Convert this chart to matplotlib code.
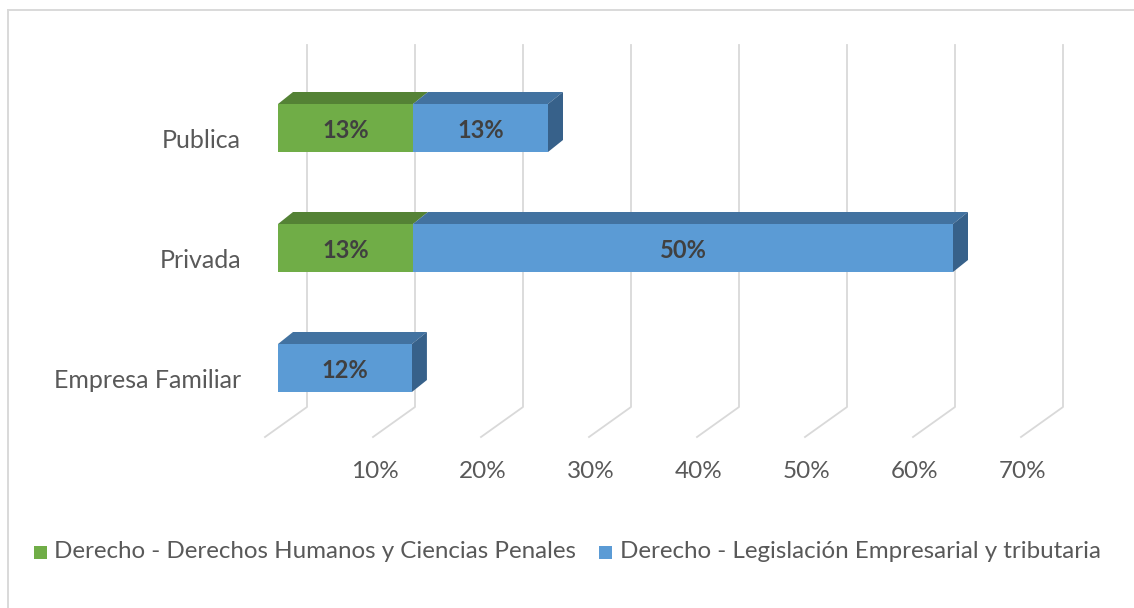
import matplotlib
matplotlib.use("Agg")
import matplotlib.pyplot as plt
from matplotlib.patches import Polygon, Rectangle
from matplotlib.lines import Line2D
from matplotlib.transforms import ScaledTranslation, blended_transform_factory

# ---------------- data ----------------
categories = ["Empresa Familiar", "Privada", "Publica"]
green_vals = [0.0, 12.5, 12.5]     # Derecho - Derechos Humanos y Ciencias Penales
blue_vals = [12.4, 50.0, 12.5]     # Derecho - Legislación Empresarial y tributaria
series_names = ["Derecho - Derechos Humanos y Ciencias Penales",
                "Derecho - Legislación Empresarial y tributaria"]
x_ticks = [0, 10, 20, 30, 40, 50, 60, 70]
x_tick_labels = ["", "10%", "20%", "30%", "40%", "50%", "60%", "70%"]

# ---------------- style ----------------
W, H, DPI = 1134, 608, 100
plt.rcParams['font.family'] = ['Lato', 'DejaVu Sans']
TXT = "#595959"
LBL = "#404040"
GRID = "#D9D9D9"
G_FRONT, G_TOP = "#70AD47", "#548235"
B_FRONT, B_TOP, B_SIDE = "#5B9BD5", "#4272A0", "#37618A"

fig = plt.figure(figsize=(W / DPI, H / DPI), dpi=DPI)
fig.patch.set_facecolor("white")

# axes = front plane of the bars: x 0..70 -> px 278..1034, y -0.5..2.5 -> px 428..68
ax_l, ax_r, ax_t, ax_b = 278, 1034, 68, 428
ax = fig.add_axes([ax_l / W, 1 - ax_b / H, (ax_r - ax_l) / W, (ax_b - ax_t) / H])
ax.set_xlim(0, 70)
ax.set_ylim(-0.5, 2.5)
for s in ax.spines.values():
    s.set_visible(False)
ax.set_xticks([])
ax.patch.set_alpha(0)

px_per_x = (ax_r - ax_l) / 70.0
px_per_y = (ax_b - ax_t) / 3.0

# ---------------- 3D gridlines ----------------
yfig = lambda py: 1 - py / H
bt = blended_transform_factory(ax.transData, fig.transFigure)
back_dx = 29 / px_per_x
front_dx = -13 / px_per_x
for v in x_ticks:
    xb = v + back_dx
    xf = v + front_dx
    ax.add_line(Line2D([xb, xb, xf], [yfig(45), yfig(407), yfig(437)],
                       transform=bt, color=GRID, lw=1.3, clip_on=False, zorder=0))
for v, lab in zip(x_ticks, x_tick_labels):
    if lab:
        ax.text(v + front_dx + 1.5 / px_per_x, yfig(472), lab, transform=bt,
                ha="center", va="center", fontsize=17.5, color=TXT, clip_on=False)

# ---------------- bars ----------------
bh = 0.4
ddx = 15 / px_per_x
ddy = 12 / px_per_y
ypos = list(range(len(categories)))

def draw_box(y, left, width, front, top, side, draw_side):
    if width <= 0:
        return
    ax.barh(y, width, left=left, height=bh, color=front, zorder=3)
    r = left + width
    t = y + bh / 2
    b = y - bh / 2
    ax.add_patch(Polygon([(left, t), (r, t), (r + ddx, t + ddy), (left + ddx, t + ddy)],
                         closed=True, facecolor=top, edgecolor="none", zorder=2))
    if draw_side:
        ax.add_patch(Polygon([(r, b), (r, t), (r + ddx, t + ddy), (r + ddx, b + ddy)],
                             closed=True, facecolor=side, edgecolor="none", zorder=2))

for y, g, bl in zip(ypos, green_vals, blue_vals):
    draw_box(y, 0, g, G_FRONT, G_TOP, G_TOP, bl <= 0)
    draw_box(y, g, bl, B_FRONT, B_TOP, B_SIDE, True)
    if g > 0:
        ax.text(g / 2, y - 0.02, f"{int(g + 0.5)}%", ha="center", va="center",
                fontsize=17, fontweight="bold", color=LBL, zorder=5)
    if bl > 0:
        ax.text(g + bl / 2, y - 0.02, f"{int(bl + 0.5)}%", ha="center", va="center",
                fontsize=17, fontweight="bold", color=LBL, zorder=5)

# category labels
ax.set_yticks(ypos)
ax.set_yticklabels(categories, fontsize=18, color=TXT)
ax.tick_params(axis="y", length=0, pad=26.5)
shift = ScaledTranslation(0, -10 / DPI, fig.dpi_scale_trans)
for lab in ax.get_yticklabels():
    lab.set_transform(lab.get_transform() + shift)

# ---------------- legend ----------------
ly = 552
fig.add_artist(Rectangle((34 / W, yfig(559)), 13 / W, 13 / H, transform=fig.transFigure,
                         facecolor=G_FRONT, edgecolor="none"))
fig.text(54 / W, yfig(ly), series_names[0], ha="left", va="center",
         fontsize=17.4, color=TXT)
fig.add_artist(Rectangle((599 / W, yfig(559)), 13 / W, 13 / H, transform=fig.transFigure,
                         facecolor=B_FRONT, edgecolor="none"))
fig.text(620 / W, yfig(ly), series_names[1], ha="left", va="center",
         fontsize=17.4, color=TXT)

# ---------------- outer frame ----------------
fig.add_artist(Line2D([8 / W, 8 / W], [0, yfig(10)], transform=fig.transFigure,
                      color=GRID, lw=1.4))
fig.add_artist(Line2D([8 / W, 1], [yfig(10), yfig(10)], transform=fig.transFigure,
                      color=GRID, lw=1.4))

fig.savefig("out.png", dpi=DPI)
